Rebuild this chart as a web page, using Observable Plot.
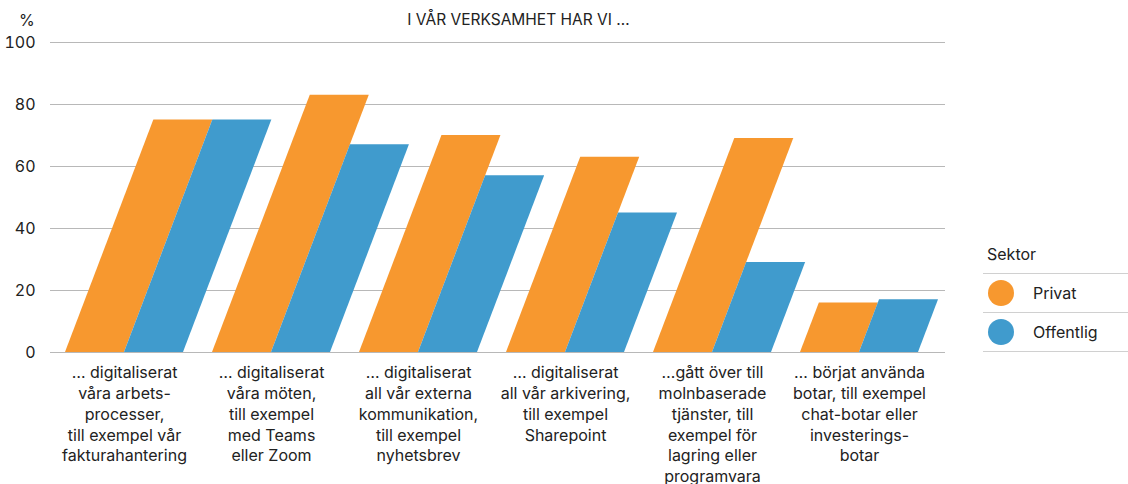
<!DOCTYPE html>
<html>
<head>
<meta charset="utf-8">
<script src="https://cdn.jsdelivr.net/npm/d3@7"></script>
<script src="https://cdn.jsdelivr.net/npm/@observablehq/plot@0.6"></script>
<style>
  html, body { margin: 0; padding: 0; background: #fff; }
  #wrap { position: relative; width: 1128px; height: 484px; font-family: Inter, "Noto Sans", sans-serif; color: #222; }
  #title { position: absolute; left: 0; width: 1037px; top: 10px; text-align: center; font-size: 15.5px; line-height: 20px; }
  #unit { position: absolute; left: 19px; top: 10px; font-size: 16px; line-height: 20px; }
  #legend { position: absolute; left: 983px; top: 236px; width: 145px; font-size: 16px; }
  #legend .head { height: 38px; line-height: 36px; padding-left: 4px; border-bottom: 1.5px solid #d0d0d0; box-sizing: border-box; }
  #legend .row { height: 39px; display: flex; align-items: center; border-bottom: 1.5px solid #d0d0d0; box-sizing: border-box; }
  #legend .dot { width: 26px; height: 26px; border-radius: 50%; margin-left: 5px; margin-right: 19px; }
</style>
</head>
<body>
<div id="wrap">
  <div id="unit">%</div>
  <div id="title">I VÅR VERKSAMHET HAR VI …</div>
  <div id="chart"></div>
  <div id="legend"></div>
</div>
<script>
const categories = [
  "… digitaliserat\nvåra arbets-\nprocesser,\ntill exempel vår\nfakturahantering",
  "… digitaliserat\nvåra möten,\ntill exempel\nmed Teams\neller Zoom",
  "… digitaliserat\nall vår externa\nkommunikation,\ntill exempel\nnyhetsbrev",
  "… digitaliserat\nall vår arkivering,\ntill exempel\nSharepoint",
  "…gått över till\nmolnbaserade\ntjänster, till\nexempel för\nlagring eller\nprogramvara",
  "… börjat använda\nbotar, till exempel\nchat-botar eller\ninvesterings-\nbotar"
];
const privat = [75, 83, 70, 63, 69, 16];
const offentlig = [75, 67, 57, 45, 29, 17];
const sectors = ["Privat", "Offentlig"];
const sectorColors = ["#f7982f", "#409bcd"];
const yTicks = [0, 20, 40, 60, 80, 100];
const legendTitle = "Sektor";

const data = categories.flatMap((c, i) => [
  {cat: c, sektor: sectors[0], value: privat[i]},
  {cat: c, sektor: sectors[1], value: offentlig[i]}
]);

const xRange = [48.5, 933.5];
const band = d3.scaleBand().domain(categories).range(xRange).paddingInner(0.2).paddingOuter(0.1);
const half = band.bandwidth() / 2;

const chart = Plot.plot({
  width: 1128,
  height: 484,
  marginLeft: 50,
  marginRight: 183,
  marginTop: 42,
  marginBottom: 132,
  style: {fontFamily: "Inter, 'Noto Sans', sans-serif", fontSize: "16px", color: "#222", background: "transparent"},
  x: {domain: categories, range: xRange, paddingInner: 0.2, paddingOuter: 0.1, axis: null},
  y: {domain: [0, 100], axis: null},
  color: {domain: sectors, range: sectorColors},
  marks: [
    Plot.gridY(yTicks, {stroke: "#b8b8b8", strokeOpacity: 1, strokeWidth: 1.2}),
    Plot.axisY({ticks: yTicks, tickSize: 0, tickPadding: 15, label: null, fontSize: 16}),
    Plot.axisX({tickSize: 0, tickPadding: 11, label: null, fontSize: 16, lineHeight: 1.3, tickFormat: d => d}),
    Plot.barY(data.filter(d => d.sektor === sectors[0]), {x: "cat", y: "value", fill: "sektor", insetRight: half}),
    Plot.barY(data.filter(d => d.sektor === sectors[1]), {x: "cat", y: "value", fill: "sektor", insetLeft: half})
  ]
});

// slant the bars (constant shear anchored at the baseline)
const k = 0.38;
chart.querySelectorAll('g[aria-label="bar"] rect').forEach(r => {
  const y = +r.getAttribute("y"), h = +r.getAttribute("height");
  const y0 = y + h;
  r.setAttribute("transform", `matrix(1,0,${-k},1,${k * y0},0)`);
});

document.getElementById("chart").appendChild(chart);

const legend = document.getElementById("legend");
const head = document.createElement("div");
head.className = "head";
head.textContent = legendTitle;
legend.appendChild(head);
sectors.forEach((s, i) => {
  const row = document.createElement("div");
  row.className = "row";
  const dot = document.createElement("span");
  dot.className = "dot";
  dot.style.background = sectorColors[i];
  const label = document.createElement("span");
  label.textContent = s;
  row.appendChild(dot);
  row.appendChild(label);
  legend.appendChild(row);
});
</script>
</body>
</html>
